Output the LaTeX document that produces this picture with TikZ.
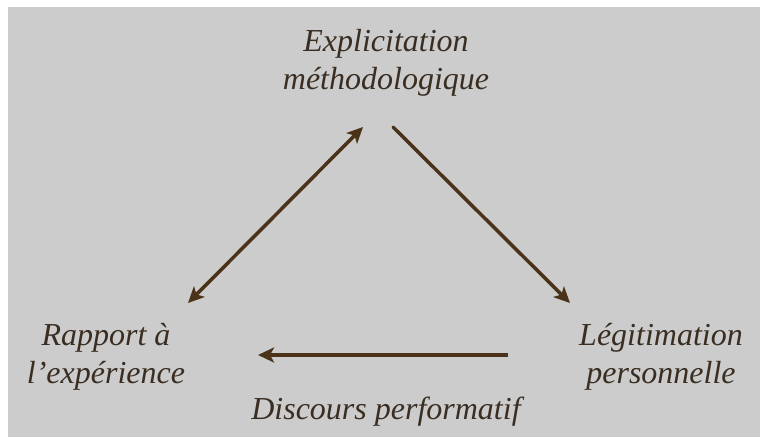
\documentclass[tikz,border=0pt]{standalone}
\usepackage{fontspec}
\setmainfont{Liberation Serif}
\usetikzlibrary{arrows.meta}
\definecolor{bggray}{HTML}{CCCCCC}
\definecolor{inkbrown}{HTML}{3A2E22}
\definecolor{arrowbrown}{HTML}{4A3318}
\tikzset{
  lbl/.style={text=inkbrown, font=\fontsize{32}{38}\selectfont\itshape, align=center, inner sep=0pt},
  conn/.style={draw=arrowbrown, line width=3.5pt, -{Stealth[length=16pt,width=15pt,inset=4pt]}},
  bconn/.style={draw=arrowbrown, line width=3.5pt, {Stealth[length=16pt,width=15pt,inset=4pt]}-{Stealth[length=16pt,width=15pt,inset=4pt]}}
}
\begin{document}
\begin{tikzpicture}[x=1pt,y=-1pt]
\useasboundingbox (0,0) rectangle (760,437);
\fill[white] (0,0) rectangle (760,437);
\fill[bggray] (8,7) rectangle (760,437);
\node[lbl, anchor=base] (top) at (386,89) {Explicitation\\méthodologique};
\node[lbl, anchor=base] (left) at (106,383) {Rapport à\\l’expérience};
\node[lbl, anchor=base] (right) at (661,383) {Légitimation\\personnelle};
\node[lbl, anchor=base] (bottom) at (386,419) {Discours performatif};
\coordinate (tl) at (363,127);
\coordinate (lt) at (188,303);
\coordinate (tr) at (393,127);
\coordinate (rt) at (570,303);
\coordinate (rl) at (508,355);
\coordinate (lr) at (258,355);
\draw[bconn] (lt) -- (tl);
\draw[conn, line cap=round] (tr) -- (rt);
\draw[conn] (rl) -- (lr);
\end{tikzpicture}
\end{document}
